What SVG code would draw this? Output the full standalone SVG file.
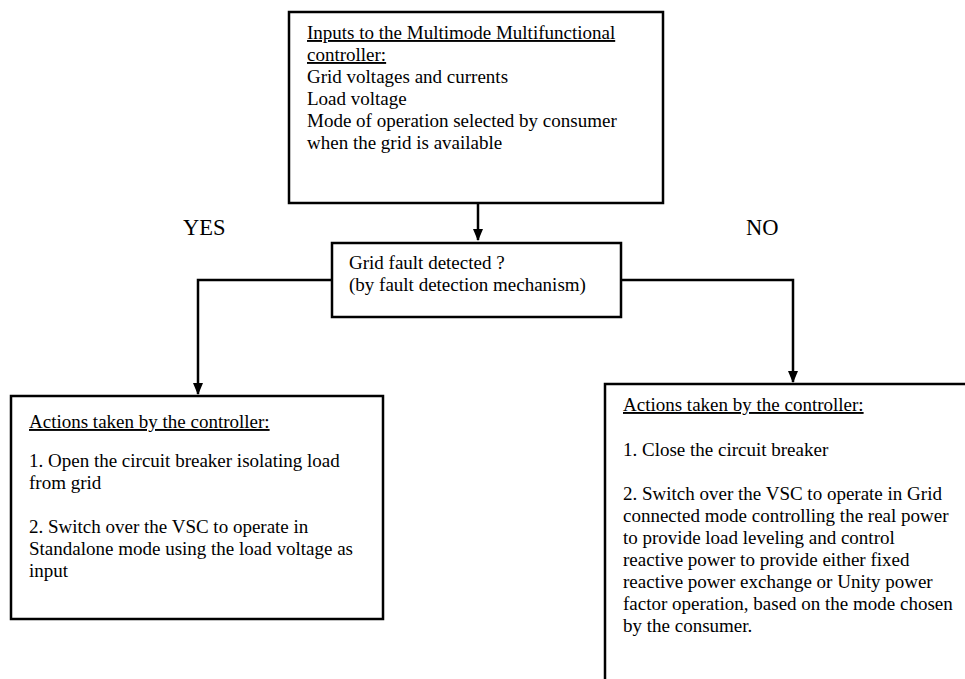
<svg xmlns="http://www.w3.org/2000/svg" width="965" height="679" viewBox="0 0 965 679">
<style>
.box{fill:#fff;stroke:#000;stroke-width:2.5}
.t{font-family:'Liberation Serif','Times New Roman',serif;font-size:19px;fill:#000}
.u{text-decoration:underline}
.lbl{font-family:'Liberation Serif','Times New Roman',serif;font-size:22.5px;fill:#000}
.c{fill:none;stroke:#000;stroke-width:2.5}
</style>
<defs>
<marker id="ah" markerWidth="12" markerHeight="10" refX="11" refY="5" orient="auto" markerUnits="userSpaceOnUse">
<path d="M0,0 L12,5 L0,10 Z" fill="#000"/>
</marker>
</defs>
<rect width="965" height="679" fill="#fff"/>
<g id="connectors">
<line class="c" x1="478" y1="203" x2="478" y2="240" marker-end="url(#ah)"/>
<polyline class="c" points="332,280 198,280 198,394" marker-end="url(#ah)"/>
<polyline class="c" points="621,280 793,280 793,382" marker-end="url(#ah)"/>
</g>
<g id="inputs">
<rect class="box" x="289" y="12" width="374" height="191"/>
<text class="t" x="307" y="39"><tspan class="u">Inputs to the Multimode  Multifunctional</tspan></text>
<text class="t" x="307" y="61"><tspan class="u">controller:</tspan></text>
<text class="t" x="307" y="83">Grid voltages and currents</text>
<text class="t" x="307" y="105">Load voltage</text>
<text class="t" x="307" y="127">Mode of operation selected by consumer</text>
<text class="t" x="307" y="149">when the grid is available</text>
</g>
<g id="decision">
<rect class="box" x="332" y="243" width="289" height="74"/>
<text class="t" x="349" y="269">Grid fault detected ?</text>
<text class="t" x="349" y="291">(by fault detection mechanism)</text>
</g>
<g id="yes-label"><text class="lbl" x="183" y="235">YES</text></g>
<g id="no-label"><text class="lbl" x="746" y="235">NO</text></g>
<g id="yes-actions">
<rect class="box" x="11" y="396" width="372" height="223"/>
<text class="t" x="29" y="428"><tspan class="u">Actions taken by the controller:</tspan></text>
<text class="t" x="29" y="467">1. Open the circuit breaker isolating load</text>
<text class="t" x="29" y="489">from grid</text>
<text class="t" x="29" y="533">2. Switch over the VSC to operate in</text>
<text class="t" x="29" y="555">Standalone mode using the load voltage as</text>
<text class="t" x="29" y="577">input</text>
</g>
<g id="no-actions">
<rect class="box" x="605" y="384" width="380" height="320"/>
<text class="t" x="623" y="411"><tspan class="u">Actions taken by the controller:</tspan></text>
<text class="t" x="623" y="456">1. Close the circuit breaker</text>
<text class="t" x="623" y="500">2. Switch over the VSC to operate in Grid</text>
<text class="t" x="623" y="522">connected mode controlling the real power</text>
<text class="t" x="623" y="544">to provide load leveling and control</text>
<text class="t" x="623" y="566">reactive power to provide either fixed</text>
<text class="t" x="623" y="588">reactive power exchange or Unity power</text>
<text class="t" x="623" y="610">factor operation, based on the mode chosen</text>
<text class="t" x="623" y="632">by the consumer.</text>
</g>
</svg>
